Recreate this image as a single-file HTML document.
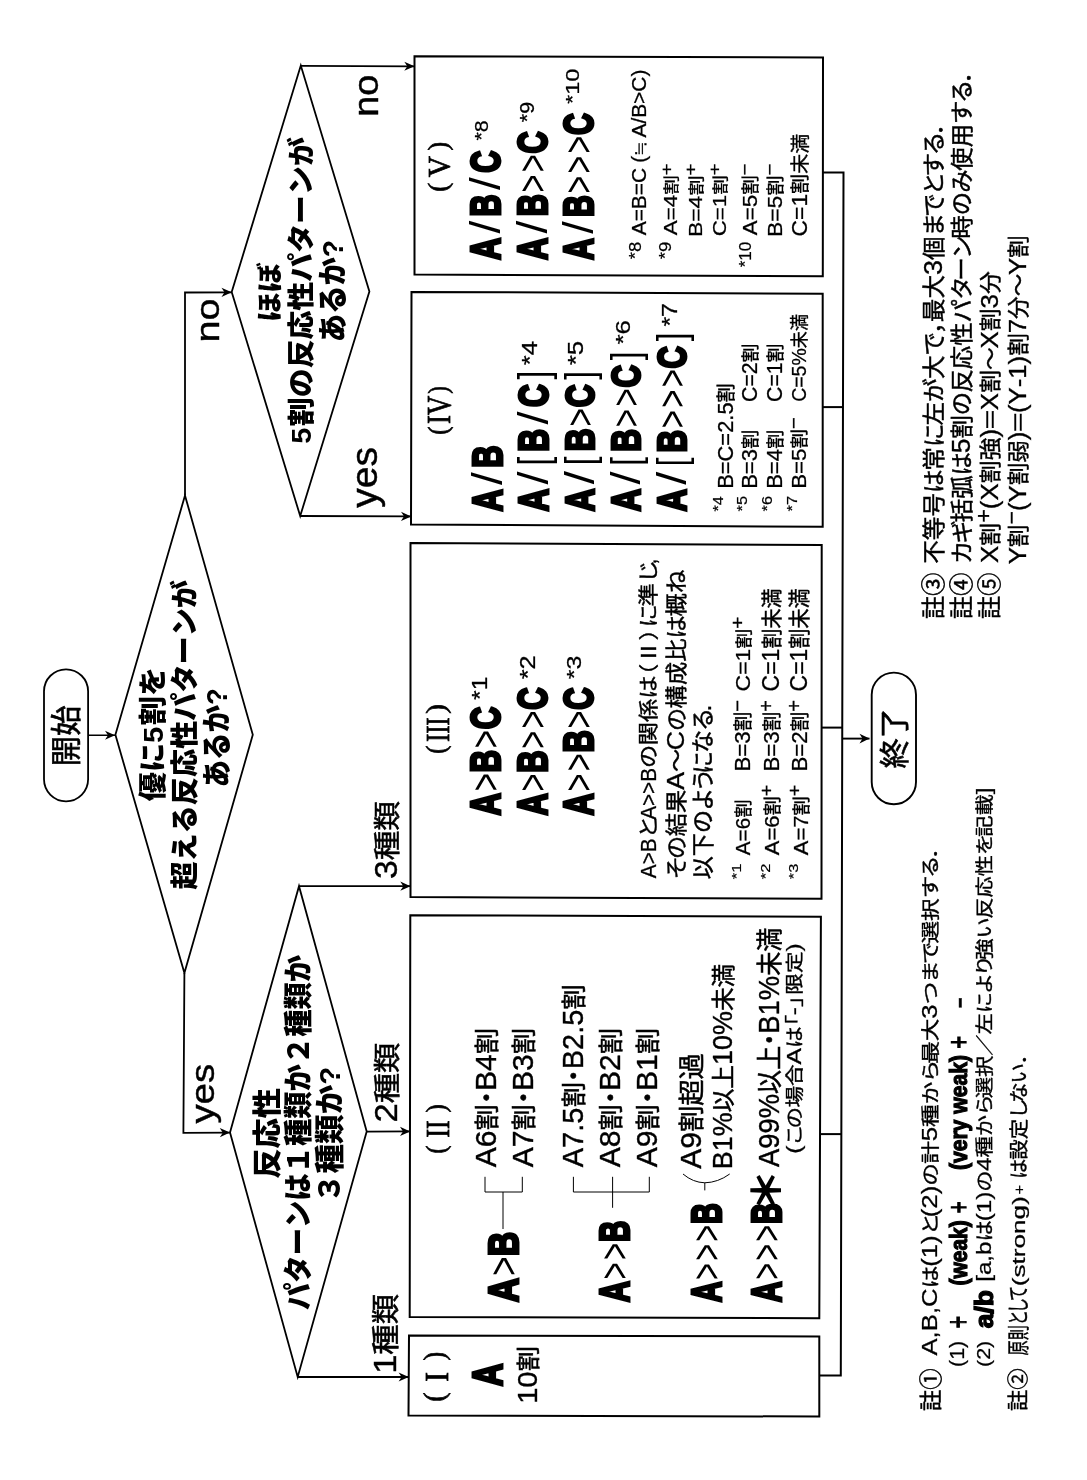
<!DOCTYPE html>
<html lang="ja"><head><meta charset="utf-8"><title>Flowchart</title>
<style>
html,body{margin:0;padding:0;background:#fff}
svg{display:block;will-change:transform}
text{font-kerning:none;fill:#000;font-size:100px;white-space:pre}
.lsr{font-family:"Liberation Sans",sans-serif;stroke:#000;stroke-width:1.5px}
.lsb{font-family:"Liberation Sans",sans-serif;font-weight:bold}
.lsn{font-family:"Liberation Sans",sans-serif}
.cj{font-family:"Liberation Sans","Noto Sans CJK JP",sans-serif;stroke:#000;stroke-width:2px}
.cjb{font-family:"Liberation Sans","Noto Sans CJK JP",sans-serif;font-weight:900}
.hv{stroke:#000;stroke-width:7px}
.hv2{stroke:#000;stroke-width:5px}
.lse{font-family:"Liberation Serif",serif;stroke:#000;stroke-width:2.5px}
</style></head>
<body>
<svg width="1087" height="1480" viewBox="0 0 1087 1480">
<g fill="none" stroke="#000" stroke-linejoin="miter">
<rect x="44" y="669.3" width="44.1" height="132" rx="22" ry="22" stroke-width="1.8"/>
<rect x="871.7" y="672.6" width="44.3" height="131.6" rx="22.1" ry="22.1" stroke-width="1.9"/>
<polyline points="88.5,735.3 115,735.2" stroke-width="1.6"/><polygon fill="#000" stroke="none" transform="translate(115 735.2) rotate(-0.2)" points="0,0 -10,-4.4 -7,0 -10,4.4"/>
<polygon points="115.4,734.8 185,495.5 252.8,734.8 184.4,973" stroke-width="1.8"/>
<polygon points="231.7,292 300.8,65.6 369.4,291.6 300.2,516" stroke-width="1.8"/>
<polygon points="230,1132.4 299,886.2 366.7,1131.6 297.7,1377" stroke-width="1.8"/>
<polyline points="185,495.5 185,292.5 231.7,292.3" stroke-width="1.8"/><polygon fill="#000" stroke="none" transform="translate(231.7 292.3) rotate(-0.2)" points="0,0 -10.2,-4.6 -7.2,0 -10.2,4.6"/>
<polyline points="184.4,973 183.4,1132.9 230,1132.6" stroke-width="1.8"/><polygon fill="#000" stroke="none" transform="translate(230 1132.6) rotate(-0.4)" points="0,0 -10.2,-4.6 -7.2,0 -10.2,4.6"/>
<polyline points="300.8,65.8 414.5,66.3" stroke-width="1.8"/><polygon fill="#000" stroke="none" transform="translate(414.5 66.3) rotate(0.3)" points="0,0 -10.2,-4.6 -7.2,0 -10.2,4.6"/>
<polyline points="300.2,516 411.2,516.4" stroke-width="1.8"/><polygon fill="#000" stroke="none" transform="translate(411.2 516.4) rotate(0.2)" points="0,0 -10.2,-4.6 -7.2,0 -10.2,4.6"/>
<polyline points="299,886.2 410.5,886.2" stroke-width="1.8"/><polygon fill="#000" stroke="none" transform="translate(410.5 886.2) rotate(0)" points="0,0 -10.2,-4.6 -7.2,0 -10.2,4.6"/>
<polyline points="366.7,1131.6 410.2,1131.4" stroke-width="1.8"/><polygon fill="#000" stroke="none" transform="translate(410.2 1131.4) rotate(-0.3)" points="0,0 -10.2,-4.6 -7.2,0 -10.2,4.6"/>
<polyline points="297.7,1377 408.8,1377" stroke-width="1.8"/><polygon fill="#000" stroke="none" transform="translate(408.8 1377) rotate(0)" points="0,0 -10.2,-4.6 -7.2,0 -10.2,4.6"/>
<polygon points="414.5,56.2 823,57.5 822.8,276.3 414.5,274.5" stroke-width="2.0"/>
<polygon points="411.5,291.9 822.7,293.8 822.7,526.7 411,524.6" stroke-width="2.0"/>
<polygon points="410.5,543 821.7,545 821.5,898.7 410.5,897.1" stroke-width="2.0"/>
<polygon points="410.3,915.2 820.9,916.7 819.3,1318.2 409.7,1317.1" stroke-width="2.0"/>
<polygon points="409,1335.6 819.3,1336.4 819.3,1416.5 408.5,1415.6" stroke-width="2.0"/>
<polyline points="822.9,172.6 843.5,172.6 840.8,1375.6 819.3,1375.6" stroke-width="2.0"/>
<polyline points="822.7,407.1 843,407.1" stroke-width="2.0"/>
<polyline points="821.6,727.6 842.2,727.6" stroke-width="2.0"/>
<polyline points="820.5,1134.1 841.3,1134.1" stroke-width="2.0"/>
<polyline points="842.2,738.6 869.5,738.6" stroke-width="1.9"/><polygon fill="#000" stroke="none" transform="translate(869.5 738.6) rotate(0)" points="0,0 -10,-4.8 -7,0 -10,4.8"/>
<polyline points="485,1176.8 485,1192 522.3,1192 522.3,1176.8" stroke-width="1.0"/>
<polyline points="503,1192 503,1229" stroke-width="1.0"/>
<polyline points="573.4,1176.8 573.4,1192 649.3,1192 649.3,1176.8" stroke-width="1.0"/>
<polyline points="612.6,1176.8 612.6,1207.8" stroke-width="1.0"/>
<path d="M683,1174 Q693,1182.5 704.8,1182.8 Q718,1182.5 729.7,1174 M704.8,1182.8 V1190.4" stroke-width="1.0"/>
</g>
<g transform="translate(0 1480) rotate(-90)" fill="#000">
<g transform="matrix(0.3062 0 0 0.3023 713.39 77.34)"><title>開始</title><text class="cj" x="0" y="0">開始</text></g>
<g transform="matrix(0.3026 0 0 0.2991 711.47 904.71)"><title>終了</title><text class="cj" x="0" y="0">終了</text></g>
<g transform="matrix(0.2913 0 0 0.2785 678.77 162.61)"><title>優に5割を</title><text class="cjb" x="0 100 200 260.9 360.9" y="0">優に5割を</text></g>
<g transform="matrix(0.2814 0 0 0.284 590.45 194.9)"><title>超える反応性パターンが</title><text class="cjb" x="0 100 200 300 400 500 600 700 800 900 1000" y="0">超える反応性パターンが</text></g>
<g transform="matrix(0.2749 0 0 0.3007 692.47 226.74)"><title>あるか?</title><text class="cjb" x="0 100 200 300" y="0">あるか?</text></g>
<g transform="matrix(0.2983 0 0 0.2672 1158.01 278.68)"><title>ほぼ</title><text class="cjb" x="0 100" y="0">ほぼ</text></g>
<g transform="matrix(0.2889 0 0 0.2744 1036.28 311.07)"><title>5割の反応性パターンが</title><text class="cjb" x="0 60.9 160.9 260.9 360.9 460.9 560.9 660.9 760.9 860.9 960.9" y="0">5割の反応性パターンが</text></g>
<g transform="matrix(0.2835 0 0 0.3007 1137.8 342.84)"><title>あるか?</title><text class="cjb" x="0 100 200 300" y="0">あるか?</text></g>
<g transform="matrix(0.3029 0 0 0.2905 301.18 277.64)"><title>反応性</title><text class="cjb" x="0 100 200" y="0">反応性</text></g>
<g transform="matrix(0.2731 0 0 0.2899 170.03 308.92)"><title>パターンは１種類か２種類か</title><text class="cjb" x="0 100 200 300 400 500 600 700 800 900 1000 1100 1200" y="0">パターンは１種類か２種類か</text></g>
<g transform="matrix(0.2953 0 0 0.2931 277.05 340.19)"><title>３種類か?</title><text class="cjb" x="0 100 200 300 400" y="0">３種類か?</text></g>
<g transform="matrix(0.3461 0 0 0.2868 1137.58 218.84)"><title>no</title><text class="lsr" style="font-size:114px" x="0" y="0">no</text></g>
<g transform="matrix(0.3323 0 0 0.3008 1363.27 377.71)"><title>no</title><text class="lsr" style="font-size:114px" x="0" y="0">no</text></g>
<g transform="matrix(0.3423 0 0 0.3183 972.2 377.2)"><title>yes</title><text class="lsr" style="font-size:114px" x="0" y="0">yes</text></g>
<g transform="matrix(0.3371 0 0 0.286 356.39 213.59)"><title>yes</title><text class="lsr" style="font-size:114px" x="0" y="0">yes</text></g>
<g transform="matrix(0.2959 0 0 0.2672 600.97 397.45)"><title>3種類</title><text class="lsr" style="font-size:114px" x="0" y="0">3</text><text class="cj" x="63.4 163.4" y="0">種類</text></g>
<g transform="matrix(0.3026 0 0 0.2672 357.62 397.45)"><title>2種類</title><text class="lsr" style="font-size:114px" x="0" y="0">2</text><text class="cj" x="63.4 163.4" y="0">種類</text></g>
<g transform="matrix(0.303 0 0 0.2823 106.13 395.91)"><title>1種類</title><text class="lsr" style="font-size:114px" x="0" y="0">1</text><text class="cj" x="63.4 163.4" y="0">種類</text></g>
<g transform="matrix(0.3066 0 0 0.4195 1220.01 499.83)"><title>A/B/C</title><text class="lsb hv" x="0" y="0">A</text><text class="lsn" transform="translate(86.4 0) scale(1.5 1)">/</text><text class="lsb hv" x="142.2" y="0">B</text><text class="lsn" transform="translate(228.6 0) scale(1.5 1)">/</text><text class="lsb hv" x="284.4" y="0">C</text></g>
<g transform="matrix(0.188 0 0 0.1577 1339.52 487.69)"><title>*8</title><text class="lsr" style="font-size:114px" x="0" y="0">*8</text></g>
<g transform="matrix(0.3071 0 0 0.4209 1220.01 546.53)"><title>A/B&gt;&gt;C</title><text class="lsb hv" x="0" y="0">A</text><text class="lsn" transform="translate(86.4 0) scale(1.5 1)">/</text><text class="lsb hv" x="142.2" y="0">B</text><text class="lsn" x="219.7 285.7" y="0">&gt;&gt;</text><text class="lsb hv" x="346.4" y="0">C</text></g>
<g transform="matrix(0.1878 0 0 0.1723 1357.82 534.46)"><title>*9</title><text class="lsr" style="font-size:114px" x="0" y="0">*9</text></g>
<g transform="matrix(0.303 0 0 0.4235 1220.01 592.72)"><title>A/B&gt;&gt;&gt;C</title><text class="lsb hv" x="0" y="0">A</text><text class="lsn" transform="translate(86.4 0) scale(1.5 1)">/</text><text class="lsb hv" x="142.2" y="0">B</text><text class="lsn" x="219.7 285.7 351.7" y="0">&gt;&gt;&gt;</text><text class="lsb hv" x="412.4" y="0">C</text></g>
<g transform="matrix(0.2071 0 0 0.1626 1376 579.08)"><title>*10</title><text class="lsr" style="font-size:114px" x="0" y="0">*10</text></g>
<g transform="matrix(0.1626 0 0 0.1517 1220.84 640.8)"><title>*8</title><text class="lsr" style="font-size:114px" x="0" y="0">*8</text></g>
<g transform="matrix(0.1833 0 0 0.1788 1244.72 645.53)"><title>A=B=C (≒A/B&gt;C)</title><text class="lsr" style="font-size:114px" x="0" y="0">A=B=C</text><text class="lsr" style="font-size:114px" x="395.3" y="0">(</text><text class="cj" x="433.3" y="0">≒</text><text class="lsr" style="font-size:114px" x="533.3" y="0">A/B&gt;C)</text></g>
<g transform="matrix(0.1633 0 0 0.1444 1220.84 670.62)"><title>*9</title><text class="lsr" style="font-size:114px" x="0" y="0">*9</text></g>
<g transform="matrix(0.1965 0 0 0.1585 1244.72 677.04)"><title>A=4割+</title><text class="lsr" style="font-size:114px" x="0" y="0">A=4</text><text class="cj" x="206" y="0">割</text><text class="lsr" style="font-size:102.6px" x="306" y="-33">+</text></g>
<g transform="matrix(0.2016 0 0 0.1644 1242.89 701.89)"><title>B=4割+</title><text class="lsr" style="font-size:114px" x="0" y="0">B=4</text><text class="cj" x="206" y="0">割</text><text class="lsr" style="font-size:102.6px" x="306" y="-33">+</text></g>
<g transform="matrix(0.1961 0 0 0.1644 1243.63 725.89)"><title>C=1割+</title><text class="lsr" style="font-size:114px" x="0" y="0">C=1</text><text class="cj" x="212.3" y="0">割</text><text class="lsr" style="font-size:102.6px" x="312.3" y="-33">+</text></g>
<g transform="matrix(0.1495 0 0 0.1504 1212.65 750.6)"><title>*10</title><text class="lsr" style="font-size:114px" x="0" y="0">*10</text></g>
<g transform="matrix(0.1965 0 0 0.1805 1244.72 756.96)"><title>A=5割−</title><text class="lsr" style="font-size:114px" x="0" y="0">A=5</text><text class="cj" x="206" y="0">割</text><text class="lsr" style="font-size:102.6px" x="306" y="-33">−</text></g>
<g transform="matrix(0.2016 0 0 0.1805 1242.89 781.76)"><title>B=5割−</title><text class="lsr" style="font-size:114px" x="0" y="0">B=5</text><text class="cj" x="206" y="0">割</text><text class="lsr" style="font-size:102.6px" x="306" y="-33">−</text></g>
<g transform="matrix(0.2003 0 0 0.1881 1243.61 806.5)"><title>C=1割未満</title><text class="lsr" style="font-size:114px" x="0" y="0">C=1</text><text class="cj" x="212.3 312.3 412.3" y="0">割未満</text></g>
<g transform="matrix(0.3078 0 0 0.4195 968.41 501.53)"><title>A/B</title><text class="lsb hv" x="0" y="0">A</text><text class="lsn" transform="translate(86.4 0) scale(1.5 1)">/</text><text class="lsb hv" x="142.2" y="0">B</text></g>
<g transform="matrix(0.3146 0 0 0.4195 968.42 547.93)"><title>A/[B/C]</title><text class="lsb hv" x="0" y="0">A</text><text class="lsn" transform="translate(86.4 0) scale(1.5 1)">/</text><text class="lsn" x="146.2" y="0">[</text><text class="lsb hv" x="190.2" y="0">B</text><text class="lsn" transform="translate(276.6 0) scale(1.5 1)">/</text><text class="lsb hv" x="332.4" y="0">C</text><text class="lsn" x="419.7" y="0">]</text></g>
<g transform="matrix(0.2244 0 0 0.1897 1114.78 537.34)"><title>*4</title><text class="lsr" style="font-size:114px" x="0" y="0">*4</text></g>
<g transform="matrix(0.3174 0 0 0.409 968.42 594.07)"><title>A/[B&gt;C]</title><text class="lsb hv" x="0" y="0">A</text><text class="lsn" transform="translate(86.4 0) scale(1.5 1)">/</text><text class="lsn" x="146.2" y="0">[</text><text class="lsb hv" x="190.2" y="0">B</text><text class="lsn" x="267.9" y="0">&gt;</text><text class="lsb hv" x="328.4" y="0">C</text><text class="lsn" x="415.7" y="0">]</text></g>
<g transform="matrix(0.2275 0 0 0.1871 1114.78 582.63)"><title>*5</title><text class="lsr" style="font-size:114px" x="0" y="0">*5</text></g>
<g transform="matrix(0.3144 0 0 0.4116 968.42 640.36)"><title>A/[B&gt;&gt;C]</title><text class="lsb hv" x="0" y="0">A</text><text class="lsn" transform="translate(86.4 0) scale(1.5 1)">/</text><text class="lsn" x="146.2" y="0">[</text><text class="lsb hv" x="190.2" y="0">B</text><text class="lsn" x="267.9 333.9" y="0">&gt;&gt;</text><text class="lsb hv" x="394.4" y="0">C</text><text class="lsn" x="481.7" y="0">]</text></g>
<g transform="matrix(0.228 0 0 0.1699 1135.48 629.67)"><title>*6</title><text class="lsr" style="font-size:114px" x="0" y="0">*6</text></g>
<g transform="matrix(0.3108 0 0 0.4116 968.41 686.46)"><title>A/[B&gt;&gt;&gt;C]</title><text class="lsb hv" x="0" y="0">A</text><text class="lsn" transform="translate(86.4 0) scale(1.5 1)">/</text><text class="lsn" x="146.2" y="0">[</text><text class="lsb hv" x="190.2" y="0">B</text><text class="lsn" x="267.8 333.8 399.8" y="0">&gt;&gt;&gt;</text><text class="lsb hv" x="460.4" y="0">C</text><text class="lsn" x="547.7" y="0">]</text></g>
<g transform="matrix(0.2169 0 0 0.1897 1153.39 676.74)"><title>*7</title><text class="lsr" style="font-size:114px" x="0" y="0">*7</text></g>
<g transform="matrix(0.1409 0 0 0.1348 968.56 723.48)"><title>*4</title><text class="lsr" style="font-size:114px" x="0" y="0">*4</text></g>
<g transform="matrix(0.192 0 0 0.1935 991.17 732.96)"><title>B=C=2.5割</title><text class="lsr" style="font-size:114px" x="0" y="0">B=C=2.5</text><text class="cj" x="450" y="0">割</text></g>
<g transform="matrix(0.1429 0 0 0.1329 968.56 747.44)"><title>*5</title><text class="lsr" style="font-size:114px" x="0" y="0">*5</text></g>
<g transform="matrix(0.1929 0 0 0.1859 991.16 757.12)"><title>B=3割</title><text class="lsr" style="font-size:114px" x="0" y="0">B=3</text><text class="cj" x="206" y="0">割</text></g>
<g transform="matrix(0.1865 0 0 0.1859 1078.08 757.12)"><title>C=2割</title><text class="lsr" style="font-size:114px" x="0" y="0">C=2</text><text class="cj" x="212.3" y="0">割</text></g>
<g transform="matrix(0.1432 0 0 0.1322 968.56 772.34)"><title>*6</title><text class="lsr" style="font-size:114px" x="0" y="0">*6</text></g>
<g transform="matrix(0.1929 0 0 0.1859 991.16 782.02)"><title>B=4割</title><text class="lsr" style="font-size:114px" x="0" y="0">B=4</text><text class="cj" x="206" y="0">割</text></g>
<g transform="matrix(0.1865 0 0 0.1859 1078.08 782.02)"><title>C=1割</title><text class="lsr" style="font-size:114px" x="0" y="0">C=1</text><text class="cj" x="212.3" y="0">割</text></g>
<g transform="matrix(0.1443 0 0 0.126 968.56 797.39)"><title>*7</title><text class="lsr" style="font-size:114px" x="0" y="0">*7</text></g>
<g transform="matrix(0.1956 0 0 0.1848 991.14 806.02)"><title>B=5割−</title><text class="lsr" style="font-size:114px" x="0" y="0">B=5</text><text class="cj" x="206" y="0">割</text><text class="lsr" style="font-size:102.6px" x="306" y="-33">−</text></g>
<g transform="matrix(0.171 0 0 0.1848 1078.16 806.02)"><title>C=5%未満</title><text class="lsr" style="font-size:114px" x="0" y="0">C=5%</text><text class="cj" x="313.7 413.7" y="0">未満</text></g>
<g transform="matrix(0.3113 0 0 0.4182 664.61 500.14)"><title>A&gt;B&gt;C</title><text class="lsb hv" x="0" y="0">A</text><text class="lsn" x="77.6" y="0">&gt;</text><text class="lsb hv" x="138.2" y="0">B</text><text class="lsn" x="215.8" y="0">&gt;</text><text class="lsb hv" x="276.4" y="0">C</text></g>
<g transform="matrix(0.2155 0 0 0.1909 780.09 487.14)"><title>*1</title><text class="lsr" style="font-size:114px" x="0" y="0">*1</text></g>
<g transform="matrix(0.3083 0 0 0.4182 664.61 547.04)"><title>A&gt;B&gt;&gt;C</title><text class="lsb hv" x="0" y="0">A</text><text class="lsn" x="77.6" y="0">&gt;</text><text class="lsb hv" x="138.2" y="0">B</text><text class="lsn" x="215.8 281.8" y="0">&gt;&gt;</text><text class="lsb hv" x="342.4" y="0">C</text></g>
<g transform="matrix(0.2218 0 0 0.1869 800.78 534.54)"><title>*2</title><text class="lsr" style="font-size:114px" x="0" y="0">*2</text></g>
<g transform="matrix(0.3083 0 0 0.4222 664.61 593.42)"><title>A&gt;&gt;B&gt;C</title><text class="lsb hv" x="0" y="0">A</text><text class="lsn" x="77.5 143.5" y="0">&gt;&gt;</text><text class="lsb hv" x="204.2" y="0">B</text><text class="lsn" x="281.8" y="0">&gt;</text><text class="lsb hv" x="342.4" y="0">C</text></g>
<g transform="matrix(0.2202 0 0 0.1832 800.78 581.24)"><title>*3</title><text class="lsr" style="font-size:114px" x="0" y="0">*3</text></g>
<g transform="matrix(0.2331 0 0 0.1995 601.81 655.52)"><title>A&gt;BとA&gt;&gt;Bの関係は（Ⅱ）に準じ,</title><text class="lsr" style="font-size:114px" transform="translate(0 0) scale(0.78 1)">A&gt;B</text><text class="cj" x="170.5" y="0">と</text><text class="lsr" style="font-size:114px" transform="translate(250.5 0) scale(0.78 1)">A&gt;&gt;B</text><text class="cj" x="473 570 670 770 820 920 1020 1075 1166 1266" y="0">の関係は（Ⅱ）に準じ</text><text class="lsr" style="font-size:114px" transform="translate(1346 0) scale(0.78 1)">,</text></g>
<g transform="matrix(0.2329 0 0 0.2135 600.82 683.5)"><title>その結果A～Cの構成比は概ね</title><text class="cj" x="0 87 184 284" y="0">その結果</text><text class="lsr" style="font-size:114px" x="384" y="0">A</text><text class="cj" x="460.1" y="0">～</text><text class="lsr" style="font-size:114px" x="554.1" y="0">C</text><text class="cj" x="636.4 733.4 833.4 933.4 1033.4 1128.4 1228.4" y="0">の構成比は概ね</text></g>
<g transform="matrix(0.2311 0 0 0.2252 600.7 710.7)"><title>以下のようになる.</title><text class="cj" x="0 100 200 297 380 456 547 642" y="0">以下のようになる</text><text class="lsr" style="font-size:114px" x="725" y="0">.</text></g>
<g transform="matrix(0.145 0 0 0.1198 600.86 741.2)"><title>*1</title><text class="lsr" style="font-size:114px" x="0" y="0">*1</text></g>
<g transform="matrix(0.1816 0 0 0.1848 624.81 750.22)"><title>A=6割</title><text class="lsr" style="font-size:114px" x="0" y="0">A=6</text><text class="cj" x="206" y="0">割</text></g>
<g transform="matrix(0.1956 0 0 0.1935 708.44 750.16)"><title>B=3割−</title><text class="lsr" style="font-size:114px" x="0" y="0">B=3</text><text class="cj" x="206" y="0">割</text><text class="lsr" style="font-size:102.6px" x="306" y="-33">−</text></g>
<g transform="matrix(0.2008 0 0 0.1763 788.61 750.29)"><title>C=1割+</title><text class="lsr" style="font-size:114px" x="0" y="0">C=1</text><text class="cj" x="212.3" y="0">割</text><text class="lsr" style="font-size:102.6px" x="312.3" y="-33">+</text></g>
<g transform="matrix(0.1452 0 0 0.1193 600.86 769.5)"><title>*2</title><text class="lsr" style="font-size:114px" x="0" y="0">*2</text></g>
<g transform="matrix(0.1929 0 0 0.1842 624.82 779.23)"><title>A=6割+</title><text class="lsr" style="font-size:114px" x="0" y="0">A=6</text><text class="cj" x="206" y="0">割</text><text class="lsr" style="font-size:102.6px" x="306" y="-33">+</text></g>
<g transform="matrix(0.1957 0 0 0.1912 708.44 779.17)"><title>B=3割+</title><text class="lsr" style="font-size:114px" x="0" y="0">B=3</text><text class="cj" x="206" y="0">割</text><text class="lsr" style="font-size:102.6px" x="306" y="-33">+</text></g>
<g transform="matrix(0.2011 0 0 0.2098 788.61 779.03)"><title>C=1割未満</title><text class="lsr" style="font-size:114px" x="0" y="0">C=1</text><text class="cj" x="212.3 312.3 412.3" y="0">割未満</text></g>
<g transform="matrix(0.1442 0 0 0.1177 600.86 797.57)"><title>*3</title><text class="lsr" style="font-size:114px" x="0" y="0">*3</text></g>
<g transform="matrix(0.1929 0 0 0.1842 624.82 807.53)"><title>A=7割+</title><text class="lsr" style="font-size:114px" x="0" y="0">A=7</text><text class="cj" x="206" y="0">割</text><text class="lsr" style="font-size:102.6px" x="306" y="-33">+</text></g>
<g transform="matrix(0.1957 0 0 0.1921 708.44 807.47)"><title>B=2割+</title><text class="lsr" style="font-size:114px" x="0" y="0">B=2</text><text class="cj" x="206" y="0">割</text><text class="lsr" style="font-size:102.6px" x="306" y="-33">+</text></g>
<g transform="matrix(0.2011 0 0 0.2109 788.61 807.32)"><title>C=1割未満</title><text class="lsr" style="font-size:114px" x="0" y="0">C=1</text><text class="cj" x="212.3 312.3 412.3" y="0">割未満</text></g>
<g transform="matrix(0.2635 0 0 0.2544 312.67 496.17)"><title>A6割・B4割</title><text class="lsr" style="font-size:114px" x="0" y="0">A6</text><text class="cj" x="139.4 214.4" y="0">割・</text><text class="lsr" style="font-size:114px" x="289.4" y="0">B4</text><text class="cj" x="428.9" y="0">割</text></g>
<g transform="matrix(0.2635 0 0 0.2544 312.67 533.17)"><title>A7割・B3割</title><text class="lsr" style="font-size:114px" x="0" y="0">A7</text><text class="cj" x="139.4 214.4" y="0">割・</text><text class="lsr" style="font-size:114px" x="289.4" y="0">B3</text><text class="cj" x="428.9" y="0">割</text></g>
<g transform="matrix(0.2548 0 0 0.2522 312.66 582.99)"><title>A7.5割・B2.5割</title><text class="lsr" style="font-size:114px" x="0" y="0">A7.5</text><text class="cj" x="234.5 309.5" y="0">割・</text><text class="lsr" style="font-size:114px" x="384.5" y="0">B2.5</text><text class="cj" x="619" y="0">割</text></g>
<g transform="matrix(0.2635 0 0 0.2533 312.67 620.28)"><title>A8割・B2割</title><text class="lsr" style="font-size:114px" x="0" y="0">A8</text><text class="cj" x="139.4 214.4" y="0">割・</text><text class="lsr" style="font-size:114px" x="289.4" y="0">B2</text><text class="cj" x="428.9" y="0">割</text></g>
<g transform="matrix(0.2635 0 0 0.2522 312.67 657.49)"><title>A9割・B1割</title><text class="lsr" style="font-size:114px" x="0" y="0">A9</text><text class="cj" x="139.4 214.4" y="0">割・</text><text class="lsr" style="font-size:114px" x="289.4" y="0">B1</text><text class="cj" x="428.9" y="0">割</text></g>
<g transform="matrix(0.2625 0 0 0.2653 311.37 701.19)"><title>A9割超過</title><text class="lsr" style="font-size:114px" x="0" y="0">A9</text><text class="cj" x="139.4 239.4 339.4" y="0">割超過</text></g>
<g transform="matrix(0.2364 0 0 0.2392 310.79 731.99)"><title>B1%以上10%未満</title><text class="lsr" style="font-size:114px" x="0" y="0">B1%</text><text class="cj" x="240.8 340.8" y="0">以上</text><text class="lsr" style="font-size:114px" x="440.8" y="0">10%</text><text class="cj" x="669 769" y="0">未満</text></g>
<g transform="matrix(0.2405 0 0 0.2652 312.95 779.28)"><title>A99%以上・B1%未満</title><text class="lsr" style="font-size:114px" x="0" y="0">A99%</text><text class="cj" x="304.2 404.2 479.2" y="0">以上・</text><text class="lsr" style="font-size:114px" x="554.2" y="0">B1%</text><text class="cj" x="795 895" y="0">未満</text></g>
<g transform="matrix(0.216 0 0 0.177 326.16 800.67)"><title>(この場合Aは「-」限定)</title><text class="lsr" style="font-size:114px" x="0" y="0">(</text><text class="cj" x="38 117 214 314" y="0">この場合</text><text class="lsr" style="font-size:114px" x="414" y="0">A</text><text class="cj" x="490 545" y="0">は「</text><text class="lsr" style="font-size:114px" x="642" y="0">-</text><text class="cj" x="680 737 837" y="0">」限定</text><text class="lsr" style="font-size:114px" x="937" y="0">)</text></g>
<g transform="matrix(0.3346 0 0 0.4182 177.84 518.04)"><title>A&gt;B</title><text class="lsb hv" x="0" y="0">A</text><text class="lsn" x="77.9" y="0">&gt;</text><text class="lsb hv" x="138.2" y="0">B</text></g>
<g transform="matrix(0.2949 0 0 0.4195 177.8 628.53)"><title>A&gt;&gt;B</title><text class="lsb hv" x="0" y="0">A</text><text class="lsn" x="77.4 143.4" y="0">&gt;&gt;</text><text class="lsb hv" x="204.2" y="0">B</text></g>
<g transform="matrix(0.2891 0 0 0.4261 177.79 721.21)"><title>A&gt;&gt;&gt;B</title><text class="lsb hv" x="0" y="0">A</text><text class="lsn" x="77.2 143.2 209.2" y="0">&gt;&gt;&gt;</text><text class="lsb hv" x="270.2" y="0">B</text></g>
<g transform="matrix(0.2891 0 0 0.4182 177.79 781.34)"><title>A&gt;&gt;&gt;B</title><text class="lsb hv" x="0" y="0">A</text><text class="lsn" x="77.3 143.3 209.3" y="0">&gt;&gt;&gt;</text><text class="lsb hv" x="270.2" y="0">B</text></g>
<g transform="matrix(0.4226 0 0 0.396 276.45 780.62)"><title>＊</title><text class="cjb" x="-19" y="0">＊</text></g>
<g transform="matrix(0.3158 0 0 0.4195 93.72 501.53)"><title>A</title><text class="lsb hv" x="0" y="0">A</text></g>
<g transform="matrix(0.2546 0 0 0.2402 76.21 536.98)"><title>10割</title><text class="lsr" style="font-size:114px" x="0" y="0">10</text><text class="cj" x="126.8" y="0">割</text></g>
<g transform="matrix(0.2317 0 0 0.2361 860.96 941.57)"><title>註③</title><text class="cj" x="0 100" y="0">註③</text></g>
<g transform="matrix(0.2357 0 0 0.2267 916.27 941.97)"><title>不等号は常に左が大で，最大3個までとする．</title><text class="cj" x="0 100 200 300 395 495 586 686 784 884 975 1025 1125" y="0">不等号は常に左が大で，最大</text><text class="lsr" style="font-size:114px" x="1225" y="0">3</text><text class="cj" x="1288.5 1388.5 1472.4 1563.5 1643.4 1733.4 1816.4" y="0">個までとする．</text></g>
<g transform="matrix(0.2317 0 0 0.2361 860.96 969.67)"><title>註④</title><text class="cj" x="0 100" y="0">註④</text></g>
<g transform="matrix(0.2335 0 0 0.2289 916 970.23)"><title>カギ括弧は5割の反応性パターン時のみ使用する．</title><text class="cj" x="0 88 179 279 379" y="0">カギ括弧は</text><text class="lsr" style="font-size:114px" x="474" y="0">5</text><text class="cj" x="537.4 637.4 734.4 834.4 934.4 1034.4 1131.5 1213.5 1307.4 1393.4 1493.4 1590.5 1684.4 1784.4 1884.4 1974.4 2057.4" y="0">割の反応性パターン時のみ使用する．</text></g>
<g transform="matrix(0.2317 0 0 0.2361 860.96 997.77)"><title>註⑤</title><text class="cj" x="0 100" y="0">註⑤</text></g>
<g transform="matrix(0.2281 0 0 0.2152 917.01 997.68)"><title>X割+(X割強)＝X割～X割3分</title><text class="lsr" style="font-size:114px" x="0" y="0">X</text><text class="cj" x="76" y="0">割</text><text class="lsr" style="font-size:102.6px" x="176" y="-33">+</text><text class="lsr" style="font-size:114px" x="236" y="0">(X</text><text class="cj" x="350 450" y="0">割強</text><text class="lsr" style="font-size:114px" x="550" y="0">)</text><text class="cj" x="579" y="0">＝</text><text class="lsr" style="font-size:114px" x="669.9" y="0">X</text><text class="cj" x="745.9 845.9" y="0">割～</text><text class="lsr" style="font-size:114px" x="939.9" y="0">X</text><text class="cj" x="1016" y="0">割</text><text class="lsr" style="font-size:114px" x="1116" y="0">3</text><text class="cj" x="1179.4" y="0">分</text></g>
<g transform="matrix(0.2259 0 0 0.2142 915.63 1025.79)"><title>Y割−(Y割弱)＝(Y-1)割7分～Y割</title><text class="lsr" style="font-size:114px" x="0" y="0">Y</text><text class="cj" x="76" y="0">割</text><text class="lsr" style="font-size:102.6px" x="176" y="-33">−</text><text class="lsr" style="font-size:114px" x="236" y="0">(Y</text><text class="cj" x="350 450" y="0">割弱</text><text class="lsr" style="font-size:114px" x="550" y="0">)</text><text class="cj" x="579" y="0">＝</text><text class="lsr" style="font-size:114px" x="669.9" y="0">(Y-1)</text><text class="cj" x="923.2" y="0">割</text><text class="lsr" style="font-size:114px" x="1023.2" y="0">7</text><text class="cj" x="1086.6 1186.6" y="0">分～</text><text class="lsr" style="font-size:114px" x="1280.6" y="0">Y</text><text class="cj" x="1356.7" y="0">割</text></g>
<g transform="matrix(0.2141 0 0 0.2288 68.95 938.95)"><title>註①</title><text class="cj" x="0 100" y="0">註①</text></g>
<g transform="matrix(0.226 0 0 0.1872 124.44 936.72)"><title>A,B,Cは(1)と(2)の計5種から最大3つまで選択する．</title><text class="lsr" style="font-size:114px" x="0" y="0">A,B,C</text><text class="cj" x="297.7" y="0">は</text><text class="lsr" style="font-size:114px" x="392.8" y="0">(1)</text><text class="cj" x="532.1" y="0">と</text><text class="lsr" style="font-size:114px" x="612.1" y="0">(2)</text><text class="cj" x="751.4 848.4" y="0">の計</text><text class="lsr" style="font-size:114px" x="948.4" y="0">5</text><text class="cj" x="1011.8 1111.8 1209.8 1290.8 1390.8" y="0">種から最大</text><text class="lsr" style="font-size:114px" x="1490.8" y="0">3</text><text class="cj" x="1554.2 1648.2 1732.2 1823.2 1923.2 2023.2 2113.2 2196.2" y="0">つまで選択する．</text></g>
<g transform="matrix(0.1883 0 0 0.1798 113.03 963.6)"><title>(1)</title><text class="lsr" style="font-size:114px" x="0" y="0">(1)</text></g>
<g transform="matrix(0.185 0 0 0.2733 151.8 968.86)"><title>+</title><text class="lsr hv2" style="font-size:114px" x="0" y="0">+</text></g>
<g transform="matrix(0.2096 0 0 0.2375 194.48 967.41)"><title>(weak)</title><text class="lsb hv2" x="0" y="0">(weak)</text></g>
<g transform="matrix(0.1768 0 0 0.2635 266.82 969.29)"><title>+</title><text class="lsr hv2" style="font-size:114px" x="0" y="0">+</text></g>
<g transform="matrix(0.2112 0 0 0.2375 309.88 967.41)"><title>(very weak)</title><text class="lsb hv2" x="0" y="0">(very</text><text class="lsb hv2" x="266.8" y="0">weak)</text></g>
<g transform="matrix(0.1883 0 0 0.2635 431.39 969.29)"><title>+</title><text class="lsr hv2" style="font-size:114px" x="0" y="0">+</text></g>
<g transform="matrix(0.1664 0 0 0.305 471.61 971.66)"><title>−</title><text class="lsr" style="font-size:114px" x="0" y="0">−</text></g>
<g transform="matrix(0.1883 0 0 0.1622 113.03 989.73)"><title>(2)</title><text class="lsr" style="font-size:114px" x="0" y="0">(2)</text></g>
<g transform="matrix(0.2647 0 0 0.2542 151.79 992.56)"><title>a/b</title><text class="lsb hv2" x="0" y="0">a/b</text></g>
<g transform="matrix(0.2125 0 0 0.1784 198.15 991.23)"><title>[a,bは(1)の4種から選択／左により強い反応性を記載]</title><text class="lsr" style="font-size:114px" x="0" y="0">[a,b</text><text class="cj" x="190.1" y="0">は</text><text class="lsr" style="font-size:114px" x="285.2" y="0">(1)</text><text class="cj" x="424.5" y="0">の</text><text class="lsr" style="font-size:114px" x="521.5" y="0">4</text><text class="cj" x="584.9 684.9 782.9 863.9 963.9 1063.9 1163.9 1263.9 1354.9 1437.9 1515.9 1615.9 1708.9 1808.9 1908.9 2008.9 2094.9 2194.9" y="0">種から選択／左により強い反応性を記載</text><text class="lsr" style="font-size:114px" x="2294.9" y="0">]</text></g>
<g transform="matrix(0.2141 0 0 0.2092 68.95 1024.65)"><title>註②</title><text class="cj" x="0 100" y="0">註②</text></g>
<g transform="matrix(0.1516 0 0 0.2187 124.54 1025.87)"><title>原則として</title><text class="cj" x="0 100 200 280 359" y="0">原則として</text></g>
<g transform="matrix(0.2298 0 0 0.1621 193.67 1024.73)"><title>(strong)</title><text class="lsr" style="font-size:114px" x="0" y="0">(strong)</text></g>
<g transform="matrix(0.1454 0 0 0.1287 285.52 1024.38)"><title>+</title><text class="lsr" style="font-size:114px" x="0" y="0">+</text></g>
<g transform="matrix(0.2039 0 0 0.1982 300.98 1026.05)"><title>は設定しない．</title><text class="cj" x="0 95 195 295 374 469 562.1" y="0">は設定しない．</text></g>
<g transform="matrix(0.2803 0 0 0.2844 78.32 443.89)"><title>(</title><text class="lse" x="0" y="0">(</text></g>
<g transform="matrix(0.2895 0 0 0.328 98.22 447.79)"><title>I</title><text class="lse" x="0" y="0">I</text></g>
<g transform="matrix(0.259 0 0 0.2844 119.39 443.89)"><title>)</title><text class="lse" x="0" y="0">)</text></g>
<g transform="matrix(0.2377 0 0 0.278 326.55 444.63)"><title>(</title><text class="lse" x="0" y="0">(</text></g>
<g transform="matrix(0.255 0 0 0.3266 342.5 448.69)"><title>II</title><text class="lse" x="0" y="0">II</text></g>
<g transform="matrix(0.2484 0 0 0.278 367.61 444.63)"><title>)</title><text class="lse" x="0" y="0">)</text></g>
<g transform="matrix(0.2484 0 0 0.2812 726.22 444.86)"><title>(</title><text class="lse" x="0" y="0">(</text></g>
<g transform="matrix(0.2425 0 0 0.3266 738.33 448.69)"><title>III</title><text class="lse" x="0" y="0">III</text></g>
<g transform="matrix(0.2909 0 0 0.2812 766.33 444.86)"><title>)</title><text class="lse" x="0" y="0">)</text></g>
<g transform="matrix(0.2484 0 0 0.2801 1045.32 446.69)"><title>(</title><text class="lse" x="0" y="0">(</text></g>
<g transform="matrix(0.2653 0 0 0.3367 1056.07 450.27)"><title>IV</title><text class="lse" x="0" y="0">IV</text></g>
<g transform="matrix(0.2271 0 0 0.2801 1086.35 446.69)"><title>)</title><text class="lse" x="0" y="0">)</text></g>
<g transform="matrix(0.2697 0 0 0.2801 1288.25 446.69)"><title>(</title><text class="lse" x="0" y="0">(</text></g>
<g transform="matrix(0.2939 0 0 0.3195 1302.84 450.32)"><title>V</title><text class="lse" x="0" y="0">V</text></g>
<g transform="matrix(0.259 0 0 0.2801 1329.39 446.69)"><title>)</title><text class="lse" x="0" y="0">)</text></g>
</g>
</svg>
</body></html>
